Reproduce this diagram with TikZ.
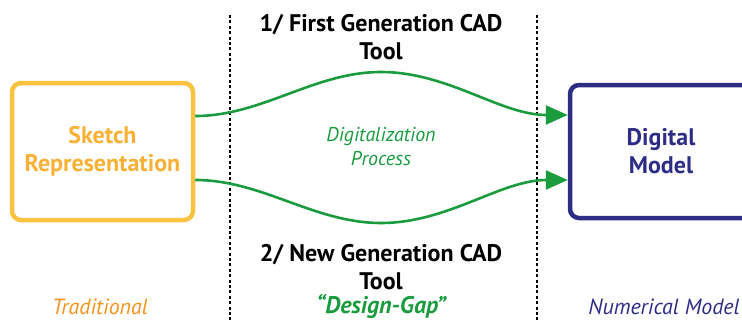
\documentclass[tikz,border=0pt]{standalone}
\usepackage{fontspec}
\setmainfont{PT Sans}
\usetikzlibrary{arrows.meta}
\definecolor{sketchyel}{HTML}{FBC23F}
\definecolor{sketchtxt}{HTML}{F8B035}
\definecolor{tradorange}{HTML}{F7941D}
\definecolor{flowgreen}{HTML}{1A9B3E}
\definecolor{digblue}{HTML}{2E2D86}
\begin{document}
\begin{tikzpicture}[x=1pt,y=-1pt,
  boxsty/.style={draw, line width=4.5pt, rounded corners=9pt, align=center, inner sep=0pt},
  flow/.style={draw=flowgreen, line width=2.6pt, -{Triangle[length=22pt,width=19pt]}},
  sep/.style={line width=2.2pt, dash pattern=on 3pt off 2.4pt},
  title/.style={font=\bfseries\fontsize{24}{28}\selectfont, align=center, text=black},
]
\useasboundingbox (0,0) rectangle (742,322);
\clip (0,0) rectangle (742,322);
% boxes
\node[boxsty, draw=sketchyel, text=sketchtxt, minimum width=181pt, minimum height=137pt,
      font=\bfseries\fontsize{24}{28}\selectfont] (sketch) at (102.5,151.5) {Sketch\\Representation};
\node[boxsty, draw=digblue, text=digblue, minimum width=182pt, minimum height=133pt,
      font=\bfseries\fontsize{24}{28}\selectfont] (digital) at (661,151.5) {Digital\\Model};
% separators
\coordinate (l1top) at (230,15); \coordinate (l1bot) at (230,322);
\coordinate (l2top) at (537,15); \coordinate (l2bot) at (537,322);
\draw[sep] (l1top) -- (l1bot);
\draw[sep] (l2top) -- (l2bot);
% titles
\node[title] (t1) at (381,37) {1/ First Generation CAD\\Tool};
\node[title] (t2) at (381,267) {2/ New Generation CAD\\Tool};
\node[font=\bfseries\itshape\fontsize{24}{26}\selectfont, text=flowgreen, inner sep=1pt] (gap) at (381,306) {“Design-Gap”};
\node[font=\itshape\fontsize{20}{24}\selectfont, text=flowgreen, align=center] (proc) at (381,147) {Digitalization\\Process};
% bottom labels
\node[font=\itshape\fontsize{22}{26}\selectfont, text=tradorange] (trad) at (100,307) {Traditional};
\node[font=\itshape\fontsize{22}{26}\selectfont, text=digblue] (num) at (664,307) {Numerical Model};
% flows
\coordinate (top) at (381,72);
\coordinate (bot) at (381,223);
\draw[flow] ([yshift=35.5pt]sketch.east) to[out=0,in=180,looseness=0.9] (top) to[out=0,in=180,looseness=0.9] ([yshift=36.5pt]digital.west);
\draw[flow] ([yshift=-28.5pt]sketch.east) to[out=0,in=180,looseness=0.9] (bot) to[out=0,in=180,looseness=0.9] ([yshift=-28.5pt]digital.west);
\end{tikzpicture}
\end{document}
